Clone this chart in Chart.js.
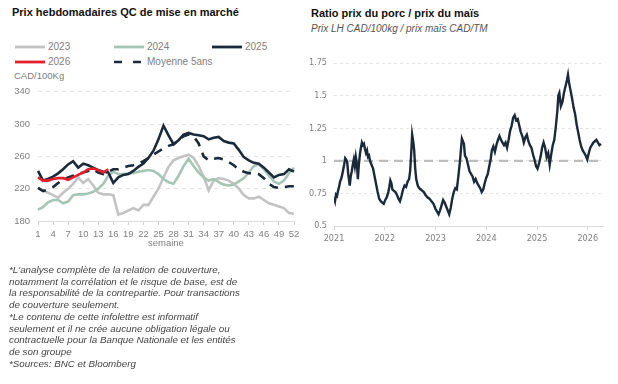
<!DOCTYPE html>
<html>
<head>
<meta charset="utf-8">
<script src="https://cdn.jsdelivr.net/npm/chart.js@4.4.1/dist/chart.umd.min.js"></script>
<style>
  body { margin: 0; width: 618px; height: 384px; background: #fff; position: relative; overflow: hidden;
         font-family: "Liberation Sans", Arial, sans-serif; }
  .title { position: absolute; font-weight: bold; font-size: 11px; color: #111; white-space: nowrap; }
  .sub { position: absolute; font-style: italic; font-size: 10px; color: #555; white-space: nowrap; }
  .unit { position: absolute; font-size: 9.5px; color: #808080; }
  .leg { position: absolute; font-size: 10px; color: #808080; white-space: nowrap; }
  .leg svg { vertical-align: middle; margin-right: 3px; }
  .note { position: absolute; left: 9px; top: 264px; font-style: italic; font-size: 9.8px; line-height: 11.7px; color: #444; white-space: nowrap; }
  canvas { position: absolute; }
</style>
</head>
<body>
<div class="title" style="left:12px; top:6px;">Prix hebdomadaires QC de mise en marché</div>
<div id="legend"></div>
<div class="unit" style="left:14px; top:70px;">CAD/100Kg</div>
<canvas id="weekly" style="left:0; top:78px;" width="305" height="174"></canvas>
<div class="unit" style="left:148px; top:237px;">semaine</div>

<div class="title" style="left:311px; top:7px;">Ratio prix du porc / prix du maïs</div>
<div class="sub" style="left:311px; top:23px;">Prix LH CAD/100kg / prix maïs CAD/TM</div>
<canvas id="ratio" style="left:305px; top:50px;" width="313" height="202"></canvas>

<div class="note">*L'analyse complète de la relation de couverture,<br>notamment la corrélation et le risque de base, est de<br>la responsabilité de la contrepartie. Pour transactions<br>de couverture seulement.<br>*Le contenu de cette infolettre est informatif<br>seulement et il ne crée aucune obligation légale ou<br>contractuelle pour la Banque Nationale et les entités<br>de son groupe<br>*Sources: BNC et Bloomberg</div>

<script>
// weekly prices, CAD/100kg
var weeks = [];
for (var w = 1; w <= 52; w++) weeks.push(String(w));

var y2023 = [221, 218, 215, 212, 209, 215, 220, 226, 234, 227, 232, 224, 215, 213, 213, 212, 188, 190, 193, 196,
             193, 200, 200, 210, 220, 234, 247, 255, 258, 260, 262, 258, 248, 235, 218, 230, 233, 232, 230, 226,
             220, 212, 208, 208, 210, 206, 202, 200, 198, 196, 190, 189];
var y2024 = [194, 197, 203, 206, 206, 202, 204, 212, 213, 213, 214, 216, 220, 226, 236, 241, 238, 238, 239, 239,
             241, 242, 243, 242, 238, 232, 228, 226, 236, 248, 257, 248, 240, 234, 230, 232, 228, 225, 224, 225,
             229, 233, 240, 248, 250, 244, 236, 229, 226, 230, 239, 246];
var y2025 = [242, 230, 232, 235, 239, 244, 250, 254, 246, 251, 249, 246, 243, 241, 240, 227, 234, 237, 238, 242,
             247, 251, 258, 267, 281, 298, 286, 275, 280, 287, 289, 287, 286, 285, 281, 283, 284, 279, 277, 276,
             268, 259, 255, 252, 251, 246, 240, 234, 237, 238, 244, 241];
var y2026 = [234, 230, 230, 232, 233, 233, 231, 234, 237, 240, 244, 245, 243, 240, 244];
var avg5 = [221, 217, 219, 222, 227, 231, 234, 236, 238, 240, 242, 244, 240, 238, 241, 244, 244, 246, 248, 249,
            251, 254, 258, 262, 266, 270, 273, 275, 280, 285, 287, 285, 276, 260, 255, 257, 258, 256, 253, 249,
            244, 241, 239, 239, 238, 233, 226, 222, 221, 222, 223, 223];
var weeklyTicks = [180, 340, 40];

// hog / corn ratio (x = year)
var ratioX = [2021.00, 2021.02, 2021.04, 2021.06, 2021.08, 2021.10, 2021.12, 2021.14, 2021.16, 2021.18,
  2021.20, 2021.22, 2021.24, 2021.26, 2021.28, 2021.30, 2021.31, 2021.33, 2021.35, 2021.37,
  2021.39, 2021.41, 2021.43, 2021.45, 2021.47, 2021.49, 2021.51, 2021.53, 2021.55, 2021.57,
  2021.59, 2021.61, 2021.63, 2021.65, 2021.67, 2021.69, 2021.71, 2021.74, 2021.77, 2021.80,
  2021.83, 2021.86, 2021.89, 2021.92, 2021.95, 2021.98, 2022.01, 2022.04, 2022.07, 2022.09,
  2022.11, 2022.13, 2022.15, 2022.18, 2022.21, 2022.24, 2022.27, 2022.30, 2022.33, 2022.36,
  2022.39, 2022.42, 2022.45, 2022.48, 2022.50, 2022.52, 2022.54, 2022.56, 2022.58, 2022.60,
  2022.62, 2022.65, 2022.68, 2022.71, 2022.74, 2022.77, 2022.80, 2022.84, 2022.88, 2022.92,
  2022.96, 2023.00, 2023.03, 2023.06, 2023.09, 2023.12, 2023.15, 2023.18, 2023.21, 2023.24,
  2023.27, 2023.30, 2023.33, 2023.36, 2023.39, 2023.42, 2023.45, 2023.48, 2023.50, 2023.52,
  2023.54, 2023.56, 2023.58, 2023.61, 2023.64, 2023.67, 2023.70, 2023.73, 2023.76, 2023.79,
  2023.82, 2023.85, 2023.88, 2023.91, 2023.94, 2023.97, 2024.00, 2024.03, 2024.06, 2024.09,
  2024.11, 2024.14, 2024.17, 2024.20, 2024.23, 2024.26, 2024.29, 2024.32, 2024.35, 2024.38,
  2024.41, 2024.44, 2024.47, 2024.50, 2024.53, 2024.56, 2024.59, 2024.62, 2024.65, 2024.68,
  2024.71, 2024.74, 2024.77, 2024.80, 2024.83, 2024.86, 2024.89, 2024.92, 2024.95, 2024.98,
  2025.01, 2025.04, 2025.07, 2025.10, 2025.13, 2025.16, 2025.19, 2025.22, 2025.25, 2025.28,
  2025.31, 2025.34, 2025.37, 2025.40, 2025.42, 2025.44, 2025.47, 2025.50, 2025.53, 2025.56,
  2025.59, 2025.61, 2025.63, 2025.66, 2025.69, 2025.72, 2025.75, 2025.78, 2025.81, 2025.84,
  2025.87, 2025.90, 2025.93, 2025.96, 2025.99, 2026.02, 2026.05, 2026.08, 2026.11, 2026.14,
  2026.17, 2026.20, 2026.23, 2026.26];
var ratioY = [0.72, 0.69, 0.74, 0.73, 0.77, 0.80, 0.84, 0.86, 0.89, 0.93,
  0.97, 1.02, 1.01, 0.99, 0.90, 0.84, 0.81, 0.88, 0.92, 0.97,
  1.01, 0.96, 1.03, 0.98, 0.86, 0.97, 1.05, 1.10, 1.14, 1.12,
  1.13, 1.09, 1.06, 1.08, 1.03, 1.04, 1.00, 0.97, 0.94, 0.88,
  0.82, 0.76, 0.71, 0.69, 0.68, 0.67, 0.70, 0.72, 0.76, 0.80,
  0.85, 0.83, 0.78, 0.77, 0.76, 0.74, 0.71, 0.69, 0.73, 0.78,
  0.81, 0.80, 0.84, 0.86, 0.92, 1.05, 1.20, 1.15, 1.08, 0.94,
  0.86, 0.81, 0.79, 0.78, 0.77, 0.76, 0.74, 0.72, 0.71, 0.69,
  0.67, 0.63, 0.61, 0.59, 0.62, 0.66, 0.70, 0.68, 0.65, 0.62,
  0.59, 0.64, 0.71, 0.76, 0.79, 0.78, 0.88, 0.99, 1.08, 1.17,
  1.15, 1.13, 1.04, 1.02, 0.97, 0.92, 0.90, 0.88, 0.84, 0.86,
  0.83, 0.81, 0.79, 0.76, 0.78, 0.83, 0.87, 0.90, 0.96, 1.02,
  1.08, 1.11, 1.07, 1.12, 1.16, 1.19, 1.16, 1.14, 1.12, 1.14,
  1.10, 1.16, 1.23, 1.27, 1.33, 1.35, 1.31, 1.32, 1.27, 1.22,
  1.19, 1.14, 1.18, 1.20, 1.15, 1.12, 1.10, 1.05, 1.01, 0.96,
  0.94, 0.98, 1.03, 1.10, 1.14, 1.10, 1.03, 1.06, 0.97, 1.05,
  1.12, 1.16, 1.26, 1.38, 1.50, 1.52, 1.42, 1.45, 1.52, 1.57,
  1.62, 1.66, 1.60, 1.54, 1.48, 1.41, 1.36, 1.28, 1.22, 1.16,
  1.11, 1.08, 1.06, 1.04, 1.01, 1.06, 1.10, 1.12, 1.14, 1.15,
  1.16, 1.14, 1.12, 1.13];
var ratioRange = [2021, 2026.3];
var ratioTicks = [0.5, 1.75, 0.25];
var parity = 1;

var navy = '#1b2a3a';
var series = [
    { label: '2023', data: y2023, color: '#c3c3c3', dash: [] },
    { label: '2024', data: y2024, color: '#a5c5b6', dash: [] },
    { label: '2025', data: y2025, color: navy, dash: [] },
    { label: '2026', data: y2026, color: '#e3202b', dash: [] },
    { label: 'Moyenne 5ans', data: avg5, color: navy, dash: [9, 7] }
];

// html legend, three columns
var legendPos = [[15, 41], [114, 41], [212, 41], [15, 56], [114, 56]];
var legendHtml = '';
series.forEach(function(s, i) {
    var line = s.dash.length
        ? '<line x1="0" y1="3" x2="8" y2="3" stroke="' + s.color + '" stroke-width="2.5"/><line x1="19" y1="3" x2="27" y2="3" stroke="' + s.color + '" stroke-width="2.5"/>'
        : '<line x1="0" y1="3" x2="30" y2="3" stroke="' + s.color + '" stroke-width="2.8"/>';
    legendHtml += '<div class="leg" style="left:' + legendPos[i][0] + 'px; top:' + legendPos[i][1] + 'px;">' +
        '<svg width="30" height="6">' + line + '</svg>' + s.label + '</div>';
});
document.getElementById('legend').innerHTML = legendHtml;

var tickFont = { family: '"Liberation Sans", Arial, sans-serif', size: 9.5 };
var narrowFont = { family: '"Liberation Sans Narrow", "DejaVu Sans Condensed", Arial, sans-serif', size: 9 };
var isYear = function(v) { return Math.abs(v - Math.round(v)) < 1e-6; };

// draw order: 2026 on top, then 2025, average, 2024, 2023
var drawOrder = [3, 2, 4, 1, 0];
new Chart(document.getElementById('weekly').getContext('2d'), {
    type: 'line',
    data: {
        labels: weeks,
        datasets: drawOrder.map(function(i) {
            var s = series[i];
            return {
                label: s.label,
                data: s.data,
                borderColor: s.color,
                borderDash: s.dash,
                borderWidth: 2.6,
                pointRadius: 0,
                tension: 0,
                fill: false
            };
        })
    },
    options: {
        responsive: false,
        animation: false,
        layout: { padding: { left: 0, right: 11, top: 5, bottom: 0 } },
        plugins: { legend: { display: false }, tooltip: { enabled: false } },
        scales: {
            x: {
                grid: {
                    drawOnChartArea: false,
                    tickLength: 4,
                    color: function(c) { return c.index % 3 === 0 ? '#cfcfcf' : 'rgba(0,0,0,0)'; }
                },
                border: { color: '#dcdcdc' },
                ticks: {
                    autoSkip: false, maxRotation: 0, padding: 4, color: '#808080', font: tickFont,
                    callback: function(v, i) { return i % 3 === 0 ? weeks[i] : ''; }
                },
                afterFit: function(s) { s.height = 31; }
            },
            y: {
                min: weeklyTicks[0], max: weeklyTicks[1],
                grid: { color: '#e4e4e4', drawTicks: false },
                border: { display: false, dash: [4, 4] },
                ticks: { stepSize: weeklyTicks[2], padding: 8, color: '#808080', font: tickFont },
                afterFit: function(s) { s.width = 38; }
            }
        }
    }
});

new Chart(document.getElementById('ratio').getContext('2d'), {
    type: 'line',
    data: {
        datasets: [{
            data: ratioX.map(function(x, i) { return { x: x, y: ratioY[i] }; }),
            borderColor: navy,
            borderWidth: 2.4,
            pointRadius: 0,
            tension: 0
        }, {
            data: [{ x: ratioRange[0], y: parity }, { x: ratioRange[1], y: parity }],
            borderColor: '#bdbdbd',
            borderDash: [9, 6],
            borderWidth: 2.2,
            pointRadius: 0
        }]
    },
    options: {
        responsive: false,
        animation: false,
        layout: { padding: { left: 0, right: 15, top: 13, bottom: 0 } },
        plugins: { legend: { display: false }, tooltip: { enabled: false } },
        scales: {
            x: {
                type: 'linear',
                min: ratioRange[0], max: ratioRange[1],
                grid: {
                    drawOnChartArea: false,
                    tickLength: 4,
                    color: function(c) { return isYear(c.tick.value) ? '#d5d5d5' : 'rgba(0,0,0,0)'; }
                },
                border: { color: '#dcdcdc' },
                ticks: {
                    stepSize: 1, includeBounds: false, maxRotation: 0, padding: 3, color: '#808080', font: narrowFont,
                    callback: function(v) { return isYear(v) ? String(Math.round(v)) : ''; }
                },
                afterFit: function(s) { s.height = 26; }
            },
            y: {
                min: ratioTicks[0], max: ratioTicks[1],
                grid: { color: '#e4e4e4', drawTicks: false },
                border: { display: false, dash: [3, 3] },
                ticks: {
                    stepSize: ratioTicks[2], padding: 7, color: '#808080', font: narrowFont,
                    callback: function(v) { return String(Math.round(v * 100) / 100); }
                },
                afterFit: function(s) { s.width = 29; }
            }
        }
    }
});
</script>
</body>
</html>
